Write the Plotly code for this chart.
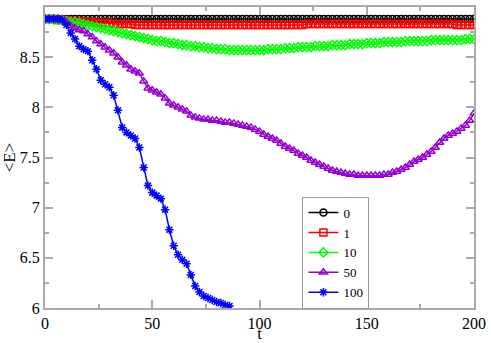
import plotly.graph_objects as go

t_long = list(range(0, 201, 2))
t_blue = list(range(0, 87, 2))

e_0 = [8.88, 8.88, 8.88, 8.88, 8.88, 8.88, 8.88, 8.88, 8.88, 8.88,
       8.88, 8.88, 8.88, 8.88, 8.88, 8.88, 8.88, 8.88, 8.88, 8.88,
       8.88, 8.88, 8.88, 8.88, 8.88, 8.88, 8.88, 8.88, 8.88, 8.88,
       8.88, 8.88, 8.88, 8.88, 8.88, 8.88, 8.88, 8.88, 8.88, 8.88,
       8.88, 8.88, 8.88, 8.88, 8.88, 8.88, 8.88, 8.88, 8.88, 8.88,
       8.88, 8.88, 8.88, 8.88, 8.88, 8.88, 8.88, 8.88, 8.88, 8.88,
       8.88, 8.88, 8.88, 8.88, 8.88, 8.88, 8.88, 8.88, 8.88, 8.88,
       8.88, 8.88, 8.88, 8.88, 8.88, 8.88, 8.88, 8.88, 8.88, 8.88,
       8.88, 8.88, 8.88, 8.88, 8.88, 8.88, 8.88, 8.88, 8.88, 8.88,
       8.88, 8.88, 8.88, 8.88, 8.88, 8.88, 8.88, 8.88, 8.88, 8.88,
       8.88]

e_1 = [8.88, 8.88, 8.88, 8.87, 8.87, 8.87,
       8.86, 8.86, 8.86, 8.85, 8.85, 8.85, 8.84, 8.84, 8.84, 8.84,
       8.83, 8.83, 8.83, 8.83, 8.83,
       8.82, 8.82, 8.82, 8.82, 8.82, 8.82, 8.82, 8.82, 8.82, 8.82,
       8.82, 8.82, 8.82, 8.82, 8.82, 8.82, 8.82, 8.82, 8.82, 8.82,
       8.82, 8.82, 8.82, 8.82, 8.82, 8.82, 8.82, 8.82, 8.82, 8.82,
       8.82, 8.82, 8.82, 8.82, 8.82, 8.82, 8.82, 8.82, 8.82, 8.82,
       8.83, 8.83, 8.83, 8.83, 8.83, 8.83, 8.83, 8.83, 8.83, 8.83,
       8.83, 8.83, 8.83, 8.83, 8.83, 8.83, 8.83, 8.83, 8.83, 8.83,
       8.83, 8.83, 8.83, 8.83, 8.83, 8.83, 8.83, 8.83, 8.83, 8.83,
       8.83, 8.83, 8.83, 8.83, 8.83,
       8.82, 8.82, 8.82, 8.82, 8.82]

e_10 = [8.88, 8.88, 8.88, 8.87, 8.87, 8.86,
        8.85, 8.85, 8.84, 8.83, 8.82, 8.81, 8.80, 8.79, 8.78, 8.77,
        8.76, 8.75, 8.74, 8.73, 8.72, 8.71, 8.70, 8.69, 8.68, 8.67,
        8.66, 8.66, 8.65, 8.64, 8.64, 8.63, 8.62, 8.62, 8.61, 8.61,
        8.60, 8.60, 8.59, 8.59, 8.58, 8.58, 8.58, 8.57, 8.57, 8.57,
        8.57, 8.57, 8.57, 8.57, 8.57, 8.57, 8.58, 8.58, 8.58, 8.58,
        8.59, 8.59, 8.59, 8.60, 8.60, 8.60, 8.60, 8.61, 8.61, 8.61,
        8.61, 8.62, 8.62, 8.62, 8.62, 8.63, 8.63, 8.63, 8.63, 8.64,
        8.64, 8.64, 8.64, 8.65, 8.65, 8.65, 8.65, 8.65, 8.66, 8.66,
        8.66, 8.66, 8.66, 8.66, 8.67, 8.67, 8.67, 8.67, 8.67, 8.67,
        8.67, 8.67, 8.68, 8.68, 8.68]

e_50 = [8.88, 8.88, 8.88, 8.88, 8.87, 8.85,
        8.81, 8.79, 8.77, 8.76, 8.73, 8.70, 8.66, 8.63, 8.60, 8.57,
        8.54, 8.50, 8.45, 8.42, 8.38, 8.36, 8.34, 8.26, 8.19, 8.17,
        8.15, 8.13, 8.09, 8.04, 8.02, 8.00, 7.98, 7.96, 7.92, 7.90,
        7.89, 7.88, 7.88, 7.87, 7.87, 7.86, 7.85, 7.85, 7.84, 7.83,
        7.82, 7.81, 7.80, 7.78, 7.76, 7.73, 7.71, 7.69, 7.67, 7.64,
        7.61, 7.59, 7.57, 7.54, 7.52, 7.50, 7.47, 7.45, 7.43, 7.41,
        7.39, 7.37, 7.36, 7.35, 7.34, 7.33, 7.33, 7.32, 7.32, 7.32,
        7.32, 7.32, 7.32, 7.33, 7.33, 7.35, 7.36, 7.38, 7.40, 7.43,
        7.46, 7.48, 7.50, 7.53, 7.56, 7.60, 7.65, 7.69, 7.72, 7.74,
        7.76, 7.79, 7.82, 7.87, 7.94]

e_100 = [8.88, 8.88, 8.88, 8.88, 8.87, 8.82, 8.74, 8.68, 8.61, 8.58,
         8.56, 8.47, 8.38, 8.27, 8.23, 8.20, 8.12, 7.97, 7.80, 7.75,
         7.72, 7.69, 7.60, 7.40, 7.22, 7.15, 7.12, 7.09, 6.98, 6.78,
         6.62, 6.53, 6.48, 6.44, 6.33, 6.22, 6.16, 6.12, 6.10, 6.08,
         6.06, 6.05, 6.03, 6.02]

series_names = ["0", "1", "10", "50", "100"]
series_colors = ["#000000", "#ff0000", "#00ff00", "#9400d3", "#0000ff"]
series_symbols = ["circle-open", "square-open", "diamond-open", "triangle-up-open", "asterisk-open"]
series_x = [t_long, t_long, t_long, t_long, t_blue]
series_y = [e_0, e_1, e_10, e_50, e_100]

x_ticks = [0, 50, 100, 150, 200]
y_ticks = [6, 6.5, 7, 7.5, 8, 8.5, 9]
y_labels = ["6", "6.5", "7", "7.5", "8", "8.5", "9"]
x_title = "t"
y_title = "&lt;E&gt;"

SERIF = "Liberation Serif"

fig = go.Figure()
for name, col, sym, xs, ys in zip(series_names, series_colors, series_symbols, series_x, series_y):
    fig.add_trace(go.Scatter(
        x=xs, y=ys, name=name, mode="lines+markers",
        line=dict(color=col, width=1.5),
        marker=dict(symbol=sym, size=7, color=col, line=dict(color=col, width=1.5)),
    ))

axis_common = dict(
    showline=True, linecolor="#aaaaaa", linewidth=2, mirror="allticks",
    ticks="inside", ticklen=8, tickwidth=1.5, tickcolor="#aaaaaa",
    showgrid=False, zeroline=False,
    tickfont=dict(family=SERIF, size=16, color="#000000"),
    minor=dict(ticks="inside", ticklen=4, tickwidth=1.5, tickcolor="#aaaaaa", showgrid=False),
)

fig.update_xaxes(range=[0, 200], tickvals=x_ticks, ticktext=[str(v) for v in x_ticks],
                 minor_dtick=25,
                 title=dict(text=x_title, font=dict(family=SERIF, size=17, color="#000000"), standoff=2),
                 **axis_common)
fig.update_yaxes(range=[6, 9], tickvals=y_ticks, ticktext=y_labels,
                 minor_dtick=0.25,
                 title=dict(text=y_title, font=dict(family=SERIF, size=17, color="#000000"), standoff=2),
                 **axis_common)

fig.update_layout(
    width=491, height=343,
    margin=dict(l=45, r=17, t=7, b=35, autoexpand=False),
    plot_bgcolor="white", paper_bgcolor="white",
    font=dict(family=SERIF, size=17, color="#000000"),
    legend=dict(
        x=0.6, y=0.37, xanchor="left", yanchor="top",
        bordercolor="#999999", borderwidth=1, bgcolor="white",
        font=dict(family=SERIF, size=13, color="#000000"),
        tracegroupgap=0, itemwidth=30,
    ),
    showlegend=True,
)

fig.write_html("out.html", config={"displayModeBar": False},
               post_script="document.body.style.margin='0';document.body.style.padding='0';")
